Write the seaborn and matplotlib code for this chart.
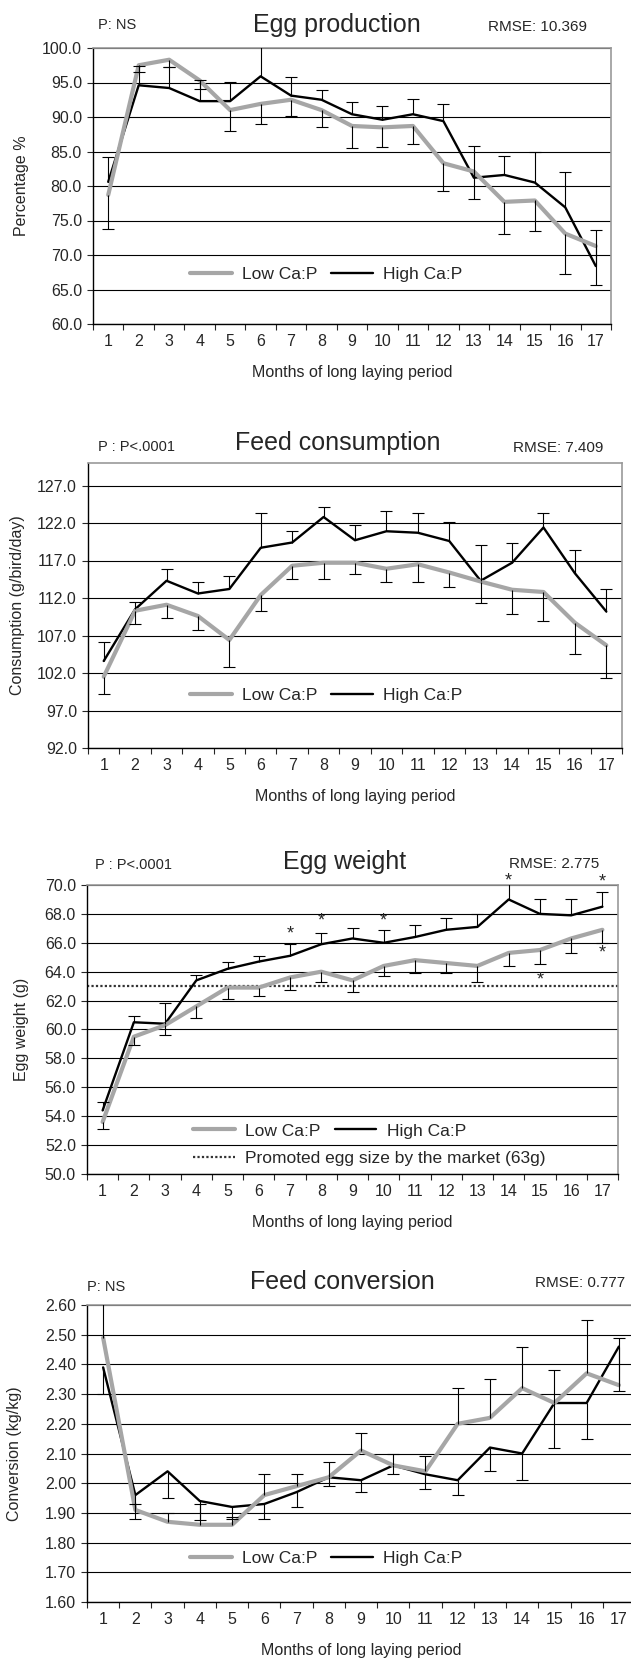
import numpy as np
import pandas as pd
import matplotlib
matplotlib.use("Agg")
import matplotlib.pyplot as plt
import seaborn as sns
from matplotlib.lines import Line2D
from matplotlib.ticker import FixedLocator, FormatStrFormatter

months = list(range(1, 18))

# Egg production (%)
prod_low = [78.7, 97.5, 98.3, 95.3, 91.0, 91.9, 92.5, 91.0, 88.7, 88.5, 88.7, 83.3, 82.1, 77.7, 77.9, 73.1, 71.3]
prod_low_err = [5.0, 1.0, 1.0, 1.2, 3.0, 2.9, 2.4, 2.5, 3.2, 2.8, 2.6, 4.0, 4.0, 4.7, 4.4, 5.8, 5.7]
prod_high = [80.6, 94.6, 94.2, 92.3, 92.3, 95.9, 93.1, 92.5, 90.4, 89.6, 90.4, 89.4, 81.2, 81.6, 80.5, 76.9, 68.4]
prod_high_err = [3.6, 2.8, 3.0, 3.0, 2.8, 4.6, 2.7, 1.4, 1.8, 2.0, 2.2, 2.5, 4.6, 2.8, 4.4, 5.2, 5.2]

# Feed consumption (g/bird/day)
feed_low = [101.5, 110.3, 111.1, 109.6, 106.4, 112.4, 116.3, 116.7, 116.7, 115.9, 116.5, 115.4, 114.2, 113.1, 112.8, 108.7, 105.7]
feed_low_err = [2.3, 1.7, 1.8, 1.9, 3.6, 2.1, 1.7, 2.1, 1.5, 1.8, 2.3, 1.9, 2.8, 3.2, 3.9, 4.2, 4.4]
feed_high = [103.6, 110.5, 114.3, 112.6, 113.2, 118.7, 119.4, 122.8, 119.7, 120.9, 120.7, 119.6, 114.3, 116.7, 121.4, 115.3, 110.2]
feed_high_err = [2.6, 1.0, 1.6, 1.6, 1.8, 4.7, 1.5, 1.3, 2.1, 2.7, 2.7, 2.5, 4.8, 2.7, 2.0, 3.1, 3.0]

# Egg weight (g)
weight_low = [53.6, 59.5, 60.3, 61.6, 62.9, 62.9, 63.6, 64.0, 63.4, 64.4, 64.8, 64.6, 64.4, 65.3, 65.5, 66.3, 66.9]
weight_low_err = [0.5, 0.6, 0.7, 0.8, 0.8, 0.6, 0.9, 0.7, 0.8, 0.7, 0.9, 0.7, 1.1, 0.9, 1.0, 1.0, 0.9]
weight_high = [54.4, 60.5, 60.4, 63.4, 64.2, 64.7, 65.1, 65.9, 66.3, 66.0, 66.4, 66.9, 67.1, 69.0, 68.0, 67.9, 68.5]
weight_high_err = [0.6, 0.4, 1.4, 0.4, 0.5, 0.4, 0.8, 0.8, 0.7, 0.9, 0.8, 0.8, 0.9, 1.3, 1.0, 1.1, 1.0]
market_size = 63
star_months = [7, 8, 10, 14, 17, 17, 15]
star_values = [66.6, 67.5, 67.5, 70.3, 70.2, 65.3, 63.4]

# Feed conversion (kg/kg)
conv_low = [2.49, 1.91, 1.87, 1.86, 1.86, 1.96, 1.99, 2.02, 2.11, 2.06, 2.04, 2.20, 2.22, 2.32, 2.27, 2.37, 2.33]
conv_low_err = [0.19, 0.02, 0.03, 0.07, 0.025, 0.07, 0.04, 0.05, 0.06, 0.04, 0.05, 0.12, 0.13, 0.14, 0.11, 0.18, 0.16]
conv_high = [2.39, 1.96, 2.04, 1.94, 1.92, 1.93, 1.97, 2.02, 2.01, 2.06, 2.03, 2.01, 2.12, 2.10, 2.27, 2.27, 2.46]
conv_high_err = [0.09, 0.08, 0.09, 0.065, 0.04, 0.05, 0.05, 0.03, 0.04, 0.03, 0.05, 0.05, 0.08, 0.09, 0.15, 0.12, 0.15]

sns.set_style("white")
plt.rcParams["font.family"] = ["Liberation Sans", "DejaVu Sans"]

GRAY = "#a6a6a6"
W, H = 631, 1661

fig = plt.figure(figsize=(W / 100, H / 100), dpi=100)


def px_axes(l, t, r, b):
    return fig.add_axes([l / W, 1 - b / H, (r - l) / W, (b - t) / H])


def one_sided(ax, x, y, err, up):
    err = np.asarray(err)
    zero = np.zeros_like(err)
    yerr = [zero, err] if up else [err, zero]
    _, caps, _ = ax.errorbar(x, y, yerr=yerr, fmt="none", ecolor="black",
                             elinewidth=0.8, capsize=4, capthick=0.8, zorder=5)
    caps[0 if up else 1].set_visible(False)


def panel(ax, low, low_err, high, high_err, high_up, ylim, yticks, fmt, ylabel, ylab_x):
    pos = np.arange(len(months))
    df = pd.DataFrame({"pos": pos, "low": low, "high": high})
    sns.lineplot(data=df, x="pos", y="high", ax=ax, color="black", lw=1.7, zorder=3)
    sns.lineplot(data=df, x="pos", y="low", ax=ax, color=GRAY, lw=3.0, zorder=4)
    one_sided(ax, pos, high, high_err, high_up)
    one_sided(ax, pos, low, low_err, not high_up)

    ax.set_xlim(-0.5, len(months) - 0.5)
    ax.set_ylim(*ylim)
    ax.xaxis.set_major_locator(FixedLocator(pos))
    ax.set_xticklabels([str(m) for m in months])
    ax.xaxis.set_minor_locator(FixedLocator(np.arange(-0.5, len(months), 1.0)))
    ax.tick_params(axis="x", which="major", length=0, pad=7, labelsize=11.5)
    ax.tick_params(axis="x", which="minor", length=4, width=0.8, direction="out", bottom=True)
    ax.set_yticks(yticks)
    ax.yaxis.set_major_formatter(FormatStrFormatter(fmt))
    ax.tick_params(axis="y", length=4, width=0.8, direction="out", left=True, pad=4, labelsize=11.5)

    ax.yaxis.grid(True, color="black", lw=0.8)
    ax.set_axisbelow(True)
    for s in ["left", "bottom"]:
        ax.spines[s].set_color("black")
        ax.spines[s].set_linewidth(1.0)
    for s in ["top", "right"]:
        ax.spines[s].set_color("#999999")
        ax.spines[s].set_linewidth(1.2)

    ax.set_xlabel("Months of long laying period", fontsize=11.5, labelpad=12)
    ax.set_ylabel(ylabel, fontsize=11.5)
    ax.yaxis.set_label_coords(ylab_x, 0.5)


def heading(title, tx, ty, ptxt, px, py, rmse, rx, ry):
    fig.text(tx / W, 1 - ty / H, title, fontsize=18, ha="center", va="center")
    fig.text(px / W, 1 - py / H, ptxt, fontsize=10.5, ha="left", va="center")
    fig.text(rx / W, 1 - ry / H, rmse, fontsize=11, ha="left", va="center")


def series_legend(ax, x, y):
    h_low = Line2D([], [], color=GRAY, lw=3.0)
    h_high = Line2D([], [], color="black", lw=1.7)
    return ax.legend([h_low, h_high], ["Low Ca:P", "High Ca:P"], ncol=2, frameon=False,
                     loc="center left", bbox_to_anchor=(x, y), borderaxespad=0, borderpad=0,
                     handlelength=2.4, handletextpad=0.6, columnspacing=0.8, fontsize=12.5)


# Panel 1: egg production
ax1 = px_axes(93, 48, 611, 324)
panel(ax1, prod_low, prod_low_err, prod_high, prod_high_err, True,
      (60, 100), np.arange(60, 100.1, 5), "%.1f", "Percentage %", -0.124)
series_legend(ax1, 0.187, 0.181)
heading("Egg production", 337, 25, "P: NS", 98, 25, "RMSE: 10.369", 488, 27)

# Panel 2: feed consumption
ax2 = px_axes(88, 463, 622, 748)
panel(ax2, feed_low, feed_low_err, feed_high, feed_high_err, True,
      (92, 130), np.arange(92, 128, 5), "%.1f", "Consumption (g/bird/day)", -0.118)
series_legend(ax2, 0.191, 0.183)
heading("Feed consumption", 338, 443, "P : P<.0001", 98, 447, "RMSE: 7.409", 513, 448)

# Panel 3: egg weight
ax3 = px_axes(87, 885, 618, 1174)
panel(ax3, weight_low, weight_low_err, weight_high, weight_high_err, True,
      (50, 70), np.arange(50, 70.1, 2), "%.1f", "Egg weight (g)", -0.109)
ax3.axhline(market_size, color="#333333", lw=1.6, ls=(0, (1, 1)), zorder=2)
for m, v in zip(star_months, star_values):
    ax3.text(m - 1, v, "*", ha="center", va="center", fontsize=13, clip_on=False)
leg = series_legend(ax3, 0.2, 0.149)
ax3.add_artist(leg)
ax3.legend([Line2D([], [], color="#333333", lw=1.6, ls=(0, (1, 1)))],
           ["Promoted egg size by the market (63g)"], frameon=False,
           loc="center left", bbox_to_anchor=(0.2, 0.055), borderaxespad=0, borderpad=0,
           handlelength=2.4, handletextpad=0.6, fontsize=12.5)
heading("Egg weight", 345, 862, "P : P<.0001", 95, 865, "RMSE: 2.775", 509, 864)

# Panel 4: feed conversion
ax4 = px_axes(87, 1305, 635, 1602)
panel(ax4, conv_low, conv_low_err, conv_high, conv_high_err, False,
      (1.6, 2.6), np.arange(1.6, 2.601, 0.1), "%.2f", "Conversion (kg/kg)", -0.119)
series_legend(ax4, 0.188, 0.148)
heading("Feed conversion", 342, 1282, "P: NS", 87, 1287, "RMSE: 0.777", 535, 1283)

fig.savefig("out.png", dpi=100)
